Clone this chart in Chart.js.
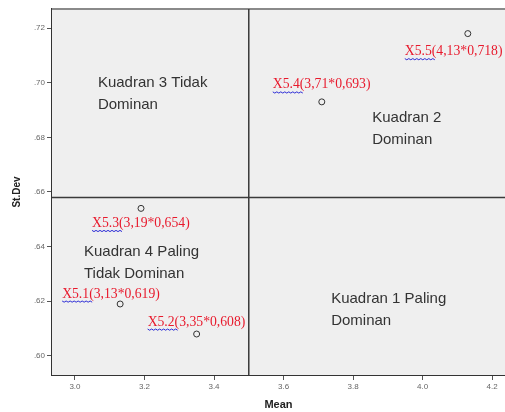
<!DOCTYPE html>
<html>
<head>
<meta charset="utf-8">
<script src="https://cdn.jsdelivr.net/npm/chart.js@4"></script>
<style>
  html, body { margin: 0; padding: 0; background: #fff; overflow: hidden; }
  #wrap { width: 505px; height: 412px; position: relative; }
  canvas { display: block; }
</style>
</head>
<body>
<div id="wrap"><canvas id="chart-kuadran"></canvas></div>
<script>
// data
const itemNames = ["X5.1", "X5.2", "X5.3", "X5.4", "X5.5"];
const meanValues = [3.13, 3.35, 3.19, 3.71, 4.13];
const stdevValues = [0.619, 0.608, 0.654, 0.693, 0.718];
const xTickValues = [3.0, 3.2, 3.4, 3.6, 3.8, 4.0, 4.2];
const yTickValues = [0.60, 0.62, 0.64, 0.66, 0.68, 0.70, 0.72];
const meanCut = 3.5;
const stdevCut = 0.658;
const quadrantNames = [
    ["Kuadran 3 Tidak", "Dominan"],
    ["Kuadran 2", "Dominan"],
    ["Kuadran 4 Paling", "Tidak Dominan"],
    ["Kuadran 1 Paling", "Dominan"],
];

const pointsData = meanValues.map((m, i) => ({ x: m, y: stdevValues[i] }));

// where each quadrant text sits (data units) and the label offsets (px)
const quadrantAnchors = [
    { x: 3.066, y: 0.700 },
    { x: 3.855, y: 0.687 },
    { x: 3.026, y: 0.638 },
    { x: 3.737, y: 0.6207 },
];
const labelOffsets = [
    [-58, -10],
    [-49, -12],
    [-49, 15],
    [-49, -17],
    [-63, 18],
];

const quadPlugin = {
    id: "quadPlugin",
    beforeDatasetsDraw(chart) {
        const { ctx, chartArea: a, scales } = chart;
        ctx.save();
        ctx.fillStyle = "#efefef";
        ctx.fillRect(a.left, a.top, a.right - a.left, a.bottom - a.top);
        // top border
        ctx.strokeStyle = "#8a8a8a";
        ctx.lineWidth = 2;
        ctx.beginPath();
        ctx.moveTo(a.left, a.top);
        ctx.lineTo(a.right, a.top);
        ctx.stroke();
        // cut lines
        const cx = scales.x.getPixelForValue(meanCut);
        const cy = scales.y.getPixelForValue(stdevCut);
        ctx.strokeStyle = "#3a3a3a";
        ctx.lineWidth = 1.5;
        ctx.beginPath();
        ctx.moveTo(cx, a.top);
        ctx.lineTo(cx, a.bottom);
        ctx.moveTo(a.left, cy);
        ctx.lineTo(a.right, cy);
        ctx.stroke();
        // quadrant texts
        ctx.fillStyle = "#333";
        ctx.font = "15px 'Liberation Sans', Arial, sans-serif";
        ctx.textBaseline = "middle";
        quadrantNames.forEach((lines, i) => {
            const px = scales.x.getPixelForValue(quadrantAnchors[i].x);
            const py = scales.y.getPixelForValue(quadrantAnchors[i].y);
            lines.forEach((t, j) => ctx.fillText(t, px, py + j * 22));
        });
        ctx.restore();
    },
    afterDatasetsDraw(chart) {
        const { ctx, scales } = chart;
        ctx.save();
        ctx.font = "13.7px 'Liberation Serif', 'Times New Roman', serif";
        ctx.textBaseline = "middle";
        pointsData.forEach((p, i) => {
            const px = scales.x.getPixelForValue(p.x);
            const py = scales.y.getPixelForValue(p.y);
            const lx = px + labelOffsets[i][0];
            const ly = py + labelOffsets[i][1];
            const head = itemNames[i] + "(";
            const txt = head + meanValues[i].toFixed(2).replace(".", ",") + "*" +
                stdevValues[i].toFixed(3).replace(".", ",") + ")";
            ctx.fillStyle = "#e8192c";
            ctx.fillText(txt, lx, ly);
            // wavy underline under the name
            const w = ctx.measureText(head).width;
            ctx.strokeStyle = "#2b2bd6";
            ctx.lineWidth = 1;
            ctx.beginPath();
            for (let k = 0; k <= w; k += 2) {
                const yy = ly + 7 + (k % 4 === 0 ? 0 : 1.2);
                if (k === 0) ctx.moveTo(lx + k, yy); else ctx.lineTo(lx + k, yy);
            }
            ctx.stroke();
        });
        ctx.restore();
    },
};

new Chart(document.getElementById("chart-kuadran"), {
    type: "scatter",
    data: {
        datasets: [{
            data: pointsData,
            pointRadius: 3,
            pointHoverRadius: 3,
            borderColor: "#333",
            borderWidth: 1,
            backgroundColor: "rgba(0,0,0,0)",
        }],
    },
    options: {
        responsive: true,
        maintainAspectRatio: false,
        animation: false,
        layout: { autoPadding: false, padding: { top: 9, right: 0, left: 0, bottom: 0 } },
        plugins: {
            legend: { display: false },
            tooltip: { enabled: false },
        },
        scales: {
            x: {
                type: "linear",
                min: 2.934,
                max: 4.237,
                afterBuildTicks: (s) => { s.ticks = xTickValues.map((v) => ({ value: v })); },
                afterFit: (s) => { s.height = 37; s.paddingRight = 0; s.paddingLeft = 0; },
                grid: { drawOnChartArea: false, tickLength: 5, color: "#555" },
                border: { color: "#333", width: 2 },
                ticks: {
                    color: "#666",
                    font: { size: 8 },
                    padding: 2,
                    maxRotation: 0,
                    callback: (v) => v.toFixed(1),
                },
                title: {
                    display: true,
                    text: "Mean",
                    color: "#222",
                    font: { size: 11, weight: "bold" },
                    padding: { top: 3, bottom: 0 },
                },
            },
            y: {
                type: "linear",
                min: 0.593,
                max: 0.727,
                afterBuildTicks: (s) => { s.ticks = yTickValues.map((v) => ({ value: v })); },
                afterFit: (s) => { s.width = 52; s.paddingTop = 0; s.paddingBottom = 0; },
                grid: { drawOnChartArea: false, tickLength: 5, color: "#555" },
                border: { color: "#333", width: 2 },
                ticks: {
                    color: "#666",
                    font: { size: 8 },
                    padding: 2,
                    callback: (v) => v.toFixed(2).replace(/^0/, ""),
                },
                title: {
                    display: true,
                    text: "St.Dev",
                    color: "#222",
                    font: { size: 10, weight: "bold" },
                    padding: { top: 11, bottom: 4 },
                },
            },
        },
    },
    plugins: [quadPlugin],
});
</script>
</body>
</html>
